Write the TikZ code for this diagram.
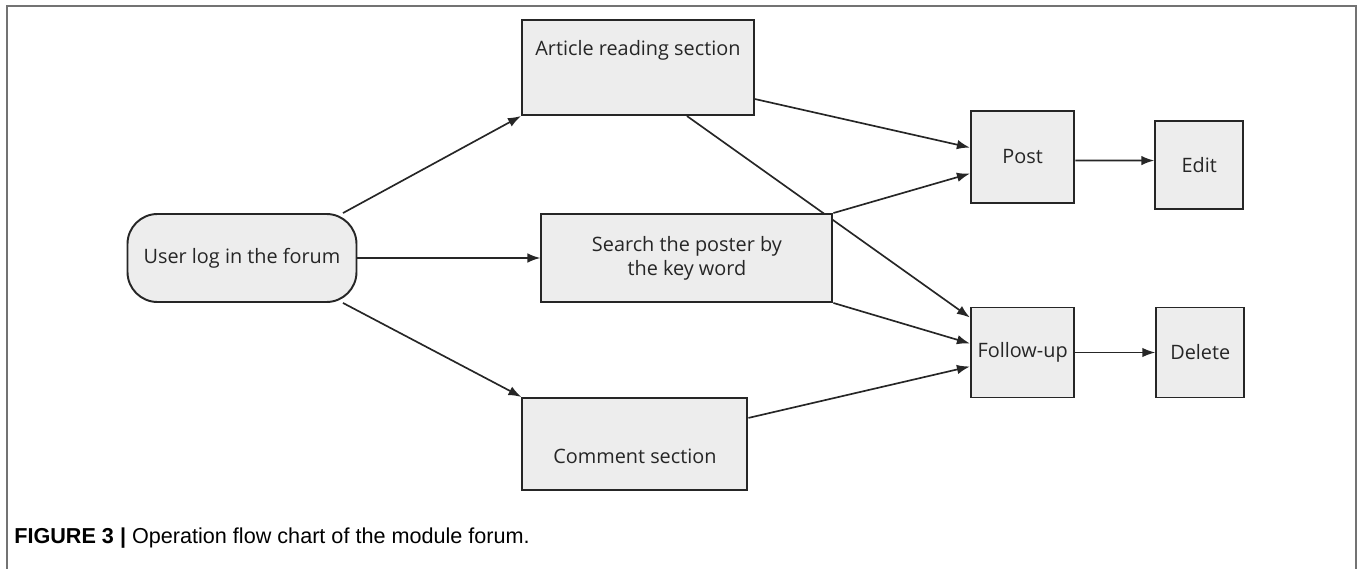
\documentclass[tikz,border=0pt]{standalone}
\usepackage{fontspec}
\setmainfont{Open Sans}
\newfontfamily\capfont{Liberation Sans}
\usetikzlibrary{arrows.meta, positioning, backgrounds}

\begin{document}
\begin{tikzpicture}[
    block/.style={rectangle, draw=black!85, line width=1.1pt, fill=black!7, inner sep=0pt, align=center, text=black!85, font=\fontsize{11.3}{13.5}\selectfont},
    startblock/.style={block, rounded corners=0.6cm},
    arrow/.style={-{Latex[length=2.6mm, width=1.9mm]}, line width=0.95pt, black!85},
    node distance=1.5cm
]
\useasboundingbox (0,0) rectangle (27.16,-11.38);

% Frame
\draw[black!55, line width=0.8pt] (0.14,-11.38) -- (0.14,-0.12) -- (27.12,-0.12) -- (27.12,-11.38);

% Start
\node[startblock, minimum width=4.58cm, minimum height=1.76cm] (login) at (4.84,-5.16) {User log in the forum};

% Sections
\node[block, minimum width=5.82cm, minimum height=1.76cm, right=3.66cm of login] (search) {Search the poster by\\the key word};
\node[block, minimum width=4.64cm, minimum height=1.9cm, text depth=0.78cm, above=1.94cm of search, xshift=-0.98cm] (article) {Article reading section};
\node[block, minimum width=4.5cm, minimum height=1.84cm, text height=0.8cm, below=1.88cm of search, xshift=-1.04cm] (comment) {Comment section};

% Actions
\node[block, minimum width=2.07cm, minimum height=1.84cm, right=4.3cm of article, yshift=-1.78cm] (post) {Post};
\node[block, minimum width=2.07cm, minimum height=1.8cm, below=2.06cm of post] (followup) {Follow-up};
\node[block, minimum width=1.76cm, minimum height=1.76cm, right=1.58cm of post, yshift=-0.16cm] (edit) {Edit};
\node[block, minimum width=1.76cm, minimum height=1.8cm, right=1.6cm of followup] (delete) {Delete};

% Arrows
\draw[arrow] (login.24) -- (article.south west);
\draw[arrow] (login) -- (search);
\draw[arrow] (login.-24) -- (comment.north west);
\draw[arrow] ([yshift=0.34cm]article.south east) -- ([yshift=0.18cm]post.west);
\begin{pgfonlayer}{background}
\draw[arrow] ([xshift=0.98cm]article.south) -- ([yshift=-0.22cm]followup.north west);
\end{pgfonlayer}
\draw[arrow] (search.north east) -- ([yshift=-0.34cm]post.west);
\draw[arrow] (search.south east) -- ([yshift=0.18cm]followup.west);
\draw[arrow] ([yshift=0.52cm]comment.east) -- ([yshift=-0.28cm]followup.west);
\draw[arrow] ([yshift=-0.08cm]post.east) -- ([yshift=0.08cm]edit.west);
\draw[arrow] (followup.east) -- (followup.east -| delete.west);

% Caption
\node[anchor=west, inner sep=0pt, font=\capfont\fontsize{12.3}{14}\selectfont] (caption) at (0.28,-10.76) {\textbf{FIGURE 3 |} Operation flow chart of the module forum.};

\end{tikzpicture}
\end{document}
